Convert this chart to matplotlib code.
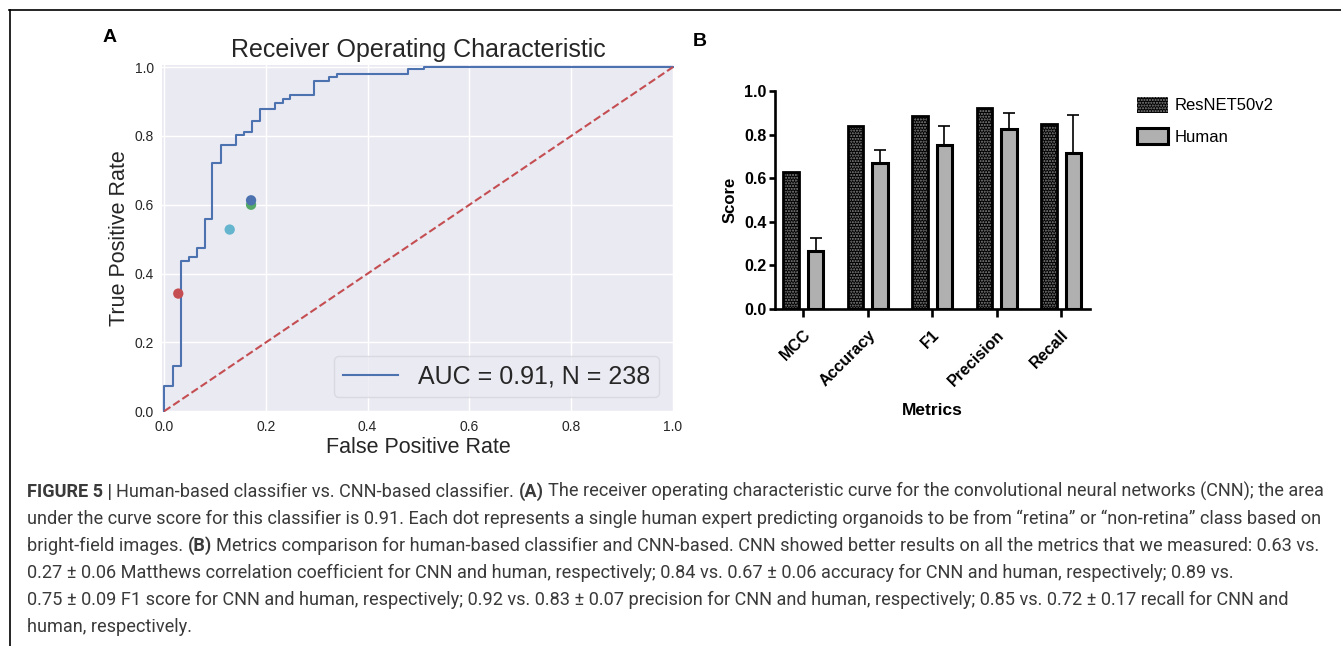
import matplotlib
matplotlib.use('Agg')
import matplotlib.pyplot as plt
import numpy as np
from matplotlib.patches import Patch
from matplotlib.lines import Line2D
from matplotlib.font_manager import FontProperties, fontManager

# ---------------- data ----------------
roc_fpr = [0.0, 0.0, 0.018, 0.033, 0.050, 0.064, 0.081, 0.095, 0.111, 0.141, 0.157,
           0.172, 0.189, 0.219, 0.234, 0.248, 0.295, 0.324, 0.340, 0.480, 0.510, 1.0]
roc_tpr = [0.0, 0.073, 0.131, 0.437, 0.449, 0.473, 0.558, 0.722, 0.774, 0.803, 0.810,
           0.844, 0.879, 0.896, 0.908, 0.920, 0.960, 0.970, 0.979, 0.993, 1.0, 1.0]
roc_label = "AUC = 0.91, N = 238"

human_fpr = [0.028, 0.129, 0.171, 0.171]
human_tpr = [0.342, 0.528, 0.600, 0.613]
human_colors = ['#C44E52', '#64B5CD', '#55A868', '#4C72B0']

metrics = ['MCC', 'Accuracy', 'F1', 'Precision', 'Recall']
resnet_scores = [0.627, 0.838, 0.884, 0.921, 0.847]
human_scores = [0.265, 0.671, 0.752, 0.825, 0.716]
human_err = [0.060, 0.060, 0.087, 0.074, 0.173]
series_names = ['ResNET50v2', 'Human']

caption_lines = [
    [("FIGURE 5 |", 'bold'), (" Human-based classifier vs. CNN-based classifier. ", 'normal'), ("(A)", 'bold'),
     (" The receiver operating characteristic curve for the convolutional neural networks (CNN); the area", 'normal')],
    [("under the curve score for this classifier is 0.91. Each dot represents a single human expert predicting organoids to be from \u201cretina\u201d or \u201cnon-retina\u201d class based on", 'normal')],
    [("bright-field images. ", 'normal'), ("(B)", 'bold'),
     (" Metrics comparison for human-based classifier and CNN-based. CNN showed better results on all the metrics that we measured: 0.63 vs.", 'normal')],
    [("0.27 \u00b1 0.06 Matthews correlation coefficient for CNN and human, respectively; 0.84 vs. 0.67 \u00b1 0.06 accuracy for CNN and human, respectively; 0.89 vs.", 'normal')],
    [("0.75 \u00b1 0.09 F1 score for CNN and human, respectively; 0.92 vs. 0.83 \u00b1 0.07 precision for CNN and human, respectively; 0.85 vs. 0.72 \u00b1 0.17 recall for CNN and", 'normal')],
    [("human, respectively.", 'normal')],
]

# ---------------- figure ----------------
plt.rcParams['font.family'] = ['Liberation Sans', 'DejaVu Sans']
W, H = 1341, 646
fig = plt.figure(figsize=(W / 100, H / 100), dpi=100)


def fx(x):
    return x / W


def fy(y):
    return 1 - y / H


# frame lines
fig.add_artist(Line2D([fx(9.5), fx(9.5)], [fy(10), fy(646)], transform=fig.transFigure, color='black', lw=1.2))
fig.add_artist(Line2D([fx(9), fx(1341)], [fy(10), fy(10)], transform=fig.transFigure, color='black', lw=1.2))

# ---------------- panel A ----------------
ax1 = fig.add_axes([fx(162), fy(412), (674 - 162) / W, (412 - 65) / H])
ax1.set_facecolor('#EAEAF2')
ax1.grid(True, color='white', lw=1.0)
ax1.set_axisbelow(True)
for s in ax1.spines.values():
    s.set_visible(False)
ax1.plot(roc_fpr, roc_tpr, drawstyle='steps-post', color='#4C72B0', lw=1.5, label=roc_label)
ax1.plot([0, 1], [0, 1], ls='--', color='#C44E52', lw=1.5)
ax1.scatter(human_fpr, human_tpr, c=human_colors, s=55, zorder=3, linewidths=0)
ax1.set_xlim(-0.004, 1.002)
ax1.set_ylim(-0.002, 1.006)
ticks = np.linspace(0, 1, 6)
ax1.set_xticks(ticks)
ax1.set_yticks(ticks)
ax1.set_xticklabels([f"{t:.1f}" for t in ticks])
ax1.set_yticklabels([f"{t:.1f}" for t in ticks])
ax1.tick_params(length=0, labelsize=10, colors='#262626')
ax1.tick_params(axis='x', pad=6)
ax1.tick_params(axis='y', pad=6)
ax1.set_title('Receiver Operating Characteristic', fontsize=18, color='#262626', pad=6)
ax1.set_xlabel('False Positive Rate', fontsize=15.5, color='#262626', labelpad=2)
ax1.set_ylabel('True Positive Rate', fontsize=15.5, color='#262626', labelpad=3)
leg = ax1.legend(loc='lower right', fontsize=18, handlelength=2.2, frameon=True, fancybox=True,
                 facecolor='#EAEAF2', edgecolor='#D5D5DD', framealpha=0.8, borderaxespad=0.6,
                 borderpad=0.35)
for t in leg.get_texts():
    t.set_color('#262626')

fig.text(fx(110), fy(38), 'A', fontsize=14, fontweight='bold', ha='center', va='center')

# ---------------- panel B ----------------
ax2 = fig.add_axes([fx(775), fy(309), (1090 - 775) / W, (309 - 91) / H])
x = np.arange(len(metrics))
bw = 0.24
off = 0.19
ax2.bar(x - off, resnet_scores, width=bw, color='black', edgecolor='#8a8a8a', hatch='......', lw=0, zorder=2)
ax2.bar(x - off, resnet_scores, width=bw, fill=False, edgecolor='black', lw=2.0, zorder=3)
ax2.bar(x + off, human_scores, width=bw, color='#b0b0b0', edgecolor='black', lw=2.2, zorder=3)
ax2.errorbar(x + off, human_scores, yerr=[np.zeros(len(human_err)), human_err], fmt='none',
             ecolor='black', elinewidth=1.2, capsize=4.0, capthick=1.2, zorder=1)
ax2.set_xlim(-0.44, 4.45)
ax2.set_ylim(0, 1.0)
ax2.spines['top'].set_visible(False)
ax2.spines['right'].set_visible(False)
for sname in ['left', 'bottom']:
    ax2.spines[sname].set_linewidth(1.9)
ax2.set_yticks(ticks)
ax2.set_yticklabels([f"{t:.1f}" for t in ticks], fontweight='bold', fontsize=11.5)
ax2.set_xticks(x)
ax2.set_xticklabels(metrics, rotation=45, ha='right', va='top', rotation_mode='anchor',
                    fontweight='bold', fontsize=11.5)
ax2.tick_params(axis='y', direction='out', length=4.5, width=1.9, pad=1.5)
ax2.tick_params(axis='x', direction='out', length=6, width=1.9, pad=7)
ax2.set_ylabel('Score', fontsize=12, fontweight='bold', labelpad=5)
ax2.set_xlabel('Metrics', fontsize=12.5, fontweight='bold', labelpad=10)

handles = [Patch(facecolor='black', edgecolor='#8a8a8a', hatch='......', lw=0),
           Patch(facecolor='#b0b0b0', edgecolor='black', lw=2.2)]
fig.legend(handles, series_names, loc='upper left', bbox_to_anchor=(fx(1130), fy(90)),
           frameon=False, fontsize=12, handlelength=1.9, handleheight=1.1, labelspacing=0.9,
           handletextpad=0.4, borderaxespad=0)

fig.text(fx(700), fy(42), 'B', fontsize=14, fontweight='bold', ha='center', va='center')

# ---------------- caption ----------------
names = {f.name for f in fontManager.ttflist}
if 'Liberation Sans Narrow' in names:
    cap_family = 'Liberation Sans Narrow'
elif 'Roboto' in names:
    cap_family = 'Roboto'
else:
    cap_family = 'Liberation Sans'
cap_color = '#3a3a3a'
fig.canvas.draw()
renderer = fig.canvas.get_renderer()


def text_width(s, size, weight):
    fp = FontProperties(family=cap_family, size=size, weight=weight)
    w1, _, _ = renderer.get_text_width_height_descent('X' + s + 'X', fp, ismath=False)
    w0, _, _ = renderer.get_text_width_height_descent('XX', fp, ismath=False)
    return w1 - w0


ref_size = 10.0
x_start, x_end_line1 = 27, 1321
total = sum(text_width(s, ref_size, w) for s, w in caption_lines[0])
cap_size = ref_size * (x_end_line1 - x_start) / total
space_w = text_width(' ', cap_size, 'normal')

baselines = [497, 524, 551, 578, 605, 632]
for segs, base in zip(caption_lines, baselines):
    xpos = x_start
    for s, w in segs:
        lead = len(s) - len(s.lstrip(' '))
        trail = len(s) - len(s.rstrip(' '))
        core = s.strip(' ')
        xpos += lead * space_w
        fig.text(fx(xpos), fy(base), core, fontfamily=cap_family, fontsize=cap_size, fontweight=w,
                 color=cap_color, ha='left', va='baseline')
        xpos += text_width(core, cap_size, w) + trail * space_w

fig.savefig('out.png', dpi=100)
